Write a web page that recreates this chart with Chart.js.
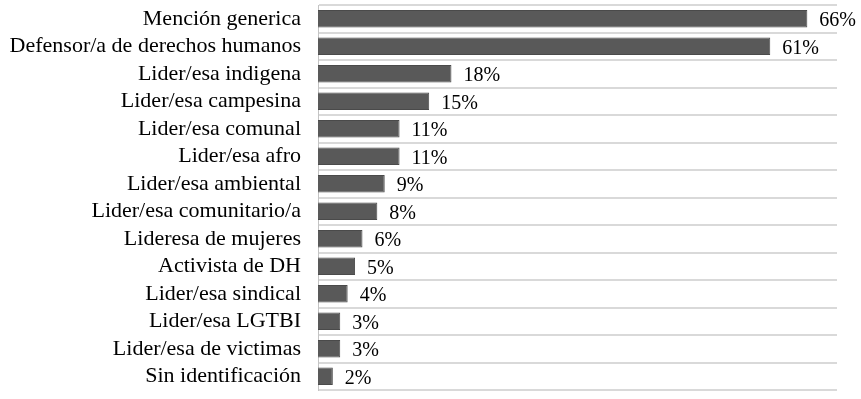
<!DOCTYPE html>
<html>
<head>
<meta charset="utf-8">
<script src="https://cdn.jsdelivr.net/npm/chart.js@4.4.1/dist/chart.umd.min.js"></script>
<style>
  html, body { margin: 0; padding: 0; background: #fff; }
  #wrap { width: 861px; height: 399px; }
</style>
</head>
<body>
<div id="wrap"><canvas id="chart"></canvas></div>
<script>
// --- DATA ---
const categories = [
  "Mención generica",
  "Defensor/a de derechos humanos",
  "Lider/esa indigena",
  "Lider/esa campesina",
  "Lider/esa comunal",
  "Lider/esa afro",
  "Lider/esa ambiental",
  "Lider/esa comunitario/a",
  "Lideresa de mujeres",
  "Activista de DH",
  "Lider/esa sindical",
  "Lider/esa LGTBI",
  "Lider/esa de victimas",
  "Sin identificación"
];
const percentages = [66, 61, 18, 15, 11, 11, 9, 8, 6, 5, 4, 3, 3, 2];

// --- VALUE LABELS ---
const valueLabels = {
  id: "valueLabels",
  afterDatasetsDraw(chart) {
    const ctx = chart.ctx;
    const meta = chart.getDatasetMeta(0);
    ctx.save();
    ctx.font = '20px "Liberation Serif"';
    ctx.fillStyle = "#000";
    ctx.textBaseline = "middle";
    ctx.textAlign = "left";
    meta.data.forEach((bar, i) => {
      ctx.fillText(percentages[i] + "%", bar.x + 12, bar.y + 2);
    });
    ctx.restore();
  }
};

const ctx = document.getElementById("chart").getContext("2d");
new Chart(ctx, {
  type: "bar",
  data: {
    labels: categories,
    datasets: [{
      data: percentages,
      backgroundColor: "#595959",
      borderColor: "#4a4a4a",
      borderWidth: 1,
      barPercentage: 0.64,
      categoryPercentage: 1
    }]
  },
  options: {
    indexAxis: "y",
    responsive: true,
    maintainAspectRatio: false,
    animation: false,
    layout: { padding: { top: 5, right: 24, bottom: 9, left: 0 } },
    plugins: {
      legend: { display: false },
      tooltip: { enabled: false }
    },
    scales: {
      x: {
        display: false,
        min: 0,
        max: 70
      },
      y: {
        afterFit: (scale) => {
          scale.width = 318;
          scale.paddingTop = 0;
          scale.paddingBottom = 0;
        },
        grid: {
          offset: true,
          color: "#d9d9d9",
          lineWidth: 2,
          drawTicks: false
        },
        border: { color: "#c4c4c4", width: 1 },
        ticks: {
          autoSkip: false,
          color: "#000",
          padding: 17,
          font: { family: "Liberation Serif", size: 22 }
        }
      }
    }
  },
  plugins: [valueLabels]
});
</script>
</body>
</html>
